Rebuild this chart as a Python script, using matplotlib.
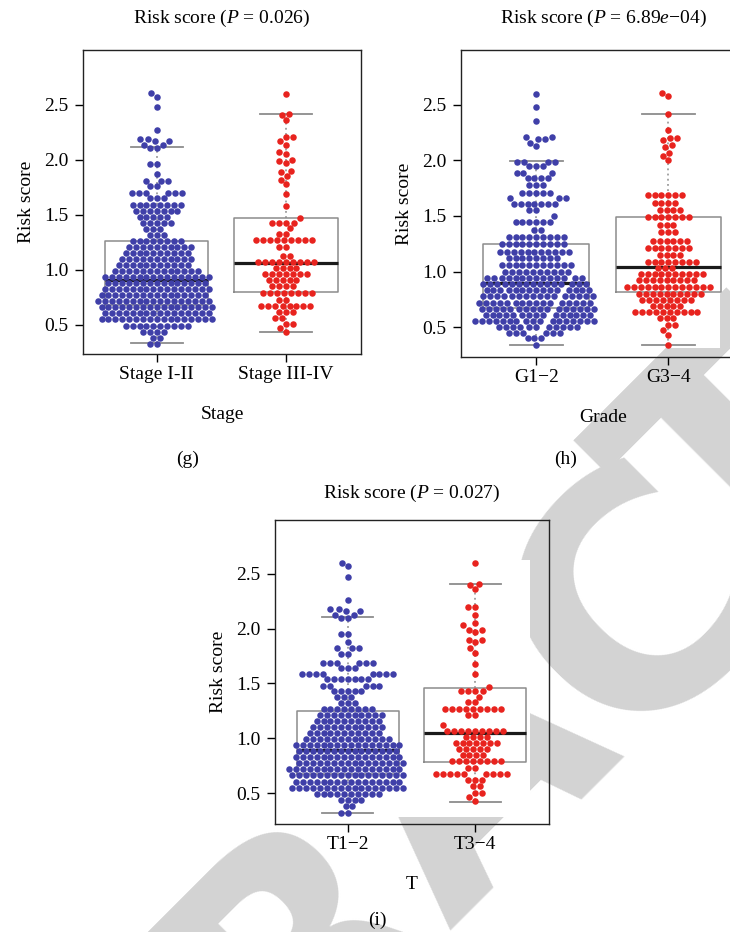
import numpy as np
import matplotlib.pyplot as plt
from matplotlib.patches import Rectangle

plt.rcParams['font.family'] = 'Liberation Serif'
plt.rcParams['mathtext.fontset'] = 'custom'
plt.rcParams['mathtext.rm'] = 'Liberation Serif'
plt.rcParams['mathtext.it'] = 'Liberation Serif:italic'

# ---- data: swarm rows (risk score level, number of points) ----
stage12_levels = [2.61, 2.57, 2.48, 2.27, 2.19, 2.17, 2.14, 2.11, 1.96, 1.87, 1.81, 1.76, 1.70, 1.65, 1.595,
                  1.54, 1.485, 1.43, 1.375, 1.32, 1.265, 1.21, 1.155, 1.10, 1.045, 0.99, 0.935, 0.88, 0.825,
                  0.77, 0.715, 0.66, 0.605, 0.55, 0.495, 0.44, 0.385, 0.33]
stage12_counts = [1, 1, 1, 1, 2, 2, 2, 2, 2, 1, 3, 2, 6, 3, 8,
                  7, 5, 5, 3, 3, 8, 10, 10, 11, 11, 13, 16, 15, 16,
                  16, 17, 17, 16, 17, 10, 4, 2, 2]
stage34_levels = [2.60, 2.42, 2.41, 2.36, 2.21, 2.17, 2.14, 2.07, 2.05, 2.00, 1.99, 1.97, 1.90, 1.89, 1.85,
                  1.82, 1.78, 1.69, 1.58, 1.47, 1.43, 1.38, 1.33, 1.27, 1.21, 1.13, 1.075, 1.015, 0.96, 0.905,
                  0.85, 0.79, 0.73, 0.67, 0.615, 0.56, 0.51, 0.47, 0.44]
stage34_counts = [1, 1, 1, 1, 2, 1, 1, 1, 1, 1, 1, 1, 1, 1, 1,
                  1, 1, 1, 1, 1, 4, 1, 2, 9, 2, 2, 9, 4, 7, 5,
                  4, 8, 2, 8, 3, 2, 2, 1, 1]

grade12_levels = [2.60, 2.48, 2.36, 2.21, 2.19, 2.16, 2.13, 1.99, 1.95, 1.89, 1.84, 1.78, 1.71, 1.66, 1.61,
                  1.55, 1.50, 1.45, 1.37, 1.31, 1.245, 1.18, 1.12, 1.055, 0.995, 0.94, 0.885, 0.83, 0.775,
                  0.72, 0.665, 0.61, 0.555, 0.50, 0.445, 0.40, 0.34]
grade12_counts = [1, 1, 1, 2, 2, 1, 1, 4, 3, 3, 4, 3, 5, 3, 7,
                  2, 1, 6, 2, 9, 10, 11, 8, 11, 10, 14, 15, 15, 16,
                  16, 16, 15, 17, 11, 6, 3, 1]
grade34_levels = [2.61, 2.58, 2.42, 2.27, 2.20, 2.18, 2.14, 2.12, 2.07, 2.04, 2.00, 1.69, 1.62, 1.55, 1.49,
                  1.42, 1.36, 1.275, 1.215, 1.15, 1.09, 1.035, 0.98, 0.92, 0.86, 0.80, 0.745, 0.69, 0.635, 0.58,
                  0.52, 0.47, 0.43, 0.34]
grade34_counts = [1, 1, 1, 1, 2, 1, 1, 1, 1, 1, 1, 6, 4, 4, 7,
                  3, 3, 6, 7, 4, 8, 3, 10, 9, 13, 10, 8, 5, 10, 3,
                  2, 1, 1, 1]

t12_levels = [2.60, 2.57, 2.47, 2.26, 2.18, 2.16, 2.13, 2.10, 1.95, 1.88, 1.82, 1.77, 1.69, 1.64, 1.59,
              1.54, 1.48, 1.43, 1.375, 1.32, 1.265, 1.21, 1.155, 1.10, 1.045, 0.99, 0.935, 0.88, 0.825,
              0.77, 0.715, 0.66, 0.605, 0.55, 0.495, 0.44, 0.38, 0.32]
t12_counts = [1, 1, 1, 1, 2, 2, 2, 2, 2, 1, 3, 2, 6, 3, 8,
              7, 5, 5, 3, 3, 8, 10, 10, 11, 11, 13, 16, 15, 16,
              16, 17, 17, 16, 17, 10, 4, 2, 2]
t34_levels = [2.60, 2.41, 2.40, 2.36, 2.20, 2.13, 2.05, 2.03, 1.99, 1.97, 1.90, 1.88, 1.82, 1.78, 1.68,
              1.59, 1.47, 1.43, 1.38, 1.33, 1.27, 1.21, 1.12, 1.07, 1.01, 0.955, 0.90, 0.845, 0.79, 0.73,
              0.67, 0.62, 0.56, 0.50, 0.46, 0.43]
t34_counts = [1, 1, 1, 1, 2, 1, 1, 1, 2, 1, 2, 1, 1, 1, 1,
              1, 1, 4, 1, 2, 9, 2, 1, 9, 4, 7, 5, 4, 8, 2,
              9, 3, 2, 2, 1, 1]

# box statistics: q1, median, q3, lower whisker, upper whisker
stage_box = [(0.68, 0.905, 1.266, 0.34, 2.118), (0.803, 1.061, 1.47, 0.436, 2.415)]
grade_box = [(0.67, 0.894, 1.248, 0.335, 1.998), (0.812, 1.043, 1.488, 0.335, 2.416)]
t_box = [(0.67, 0.893, 1.252, 0.32, 2.11), (0.786, 1.05, 1.456, 0.42, 2.41)]

stage_labels = ['Stage I-II', 'Stage III-IV']
grade_labels = ['G1\u22122', 'G3\u22124']
t_labels = ['T1\u22122', 'T3\u22124']

BLUE = '#3f3fa8'
RED = '#e8231e'
BOXGRAY = '#8c8c8c'
DOT = 6.9  # dot spacing in pixels


def swarm_offsets(ypx, d):
    # simple beeswarm: place each point (low to high) closest to the centre without overlap
    order = np.argsort(ypx, kind='stable')
    xs = np.zeros(len(ypx))
    done_x, done_y = [], []
    for i in order:
        y = ypx[i]
        px = np.array(done_x)
        py = np.array(done_y)
        if len(py):
            m = np.abs(py - y) < d
            px, py = px[m], py[m]
        w = np.sqrt(np.maximum(d ** 2 - (py - y) ** 2, 0))
        cands = np.concatenate([[0.0], px - w, px + w])
        cands = cands[np.argsort(np.abs(cands), kind='stable')]
        for c in cands:
            if np.all((c - px) ** 2 + (py - y) ** 2 >= d ** 2 - 1e-3):
                xs[i] = c
                break
        done_x.append(xs[i])
        done_y.append(y)
    return xs


def panel(ax, groups, boxes, labels, title, xlab, ylim, title_off):
    ax.set_xlim(0.43, 2.58)
    ax.set_ylim(*ylim)
    ax.set_facecolor('none')
    stats = []
    for q1, med, q3, lo, hi in boxes:
        stats.append(dict(q1=q1, med=med, q3=q3, whislo=lo, whishi=hi, fliers=[]))
    ax.bxp(stats, positions=[1, 2], widths=0.8, capwidths=0.4, showfliers=False,
           boxprops=dict(color=BOXGRAY, lw=1.1),
           whiskerprops=dict(color=BOXGRAY, lw=1.1, linestyle=(0, (1.2, 2.2))),
           capprops=dict(color=BOXGRAY, lw=1.3),
           medianprops=dict(color='#1a1a1a', lw=2.3), zorder=1)
    for k, (levels, counts, col) in enumerate(groups):
        ys = np.repeat(levels, counts)
        pts = ax.transData.transform(np.column_stack([np.full(len(ys), k + 1.0), ys]))
        xs = swarm_offsets(pts[:, 1], DOT)
        pts[:, 0] += xs
        data = ax.transData.inverted().transform(pts)
        ax.scatter(data[:, 0], ys, s=22, color=col, linewidths=0, zorder=2)
    ax.set_xticks([1, 2])
    ax.set_xticklabels(labels)
    ax.set_yticks([0.5, 1.0, 1.5, 2.0, 2.5])
    ax.set_yticklabels(['0.5', '1.0', '1.5', '2.0', '2.5'])
    ax.tick_params(labelsize=14, length=6, width=1.0, direction='out')
    ax.tick_params(axis='x', pad=2.5)
    ax.tick_params(axis='y', pad=4.5)
    for s in ax.spines.values():
        s.set_linewidth(1.0)
        s.set_color('#222222')
    ax.set_xlabel(xlab, fontsize=14)
    ax.set_ylabel('Risk score', fontsize=14)
    h = ax.get_position().height * 932
    w = ax.get_position().width * 730
    ax.xaxis.set_label_coords(0.5, -52 / h)
    ax.yaxis.set_label_coords(-48 / w, 0.5)
    ax.text(0.5, 1 + title_off / h, title, transform=ax.transAxes, ha='center', va='center', fontsize=14)


fig = plt.figure(figsize=(7.3, 9.32), dpi=100)


def pos(l, t, r, b):
    return [l / 730, 1 - b / 932, (r - l) / 730, (b - t) / 932]


# watermark behind the panels: letters of "RETRACTED" laid along a diagonal
wm_letters = ['R', 'A', 'C', 'T']
wm_centres = [(285, 930), (455, 760), (624, 588), (732, 446)]
ang = np.deg2rad(45)
cap = 235  # cap height in pixels
for ch, (cx, cy) in zip(wm_letters, wm_centres):
    bx = cx + 0.5 * cap * np.sin(ang)
    by = cy + 0.5 * cap * np.cos(ang)
    fig.text(bx / 730, 1 - by / 932, ch, rotation=45, rotation_mode='anchor', fontsize=232,
             family='DejaVu Sans', weight='bold', color='#d3d3d3', ha='center', va='baseline', zorder=-2)
fig.add_artist(Rectangle((289 / 730, 1 - 817 / 932), (530 - 289) / 730, (817 - 560) / 932,
                         transform=fig.transFigure, facecolor='white', edgecolor='none', zorder=-1))
fig.add_artist(Rectangle((470 / 730, 1 - 348 / 932), (720 - 470) / 730, (348 - 55) / 932,
                         transform=fig.transFigure, facecolor='white', edgecolor='none', zorder=-1))

ax_g = fig.add_axes(pos(83, 50, 361, 354))
panel(ax_g, [(stage12_levels, stage12_counts, BLUE), (stage34_levels, stage34_counts, RED)],
      stage_box, stage_labels, 'Risk score ($P$ = 0.026)', 'Stage', (0.236, 3.0), 32)

ax_h = fig.add_axes(pos(461, 50, 745, 357))
panel(ax_h, [(grade12_levels, grade12_counts, BLUE), (grade34_levels, grade34_counts, RED)],
      grade_box, grade_labels, 'Risk score ($P$ = 6.89$e$\u221204)', 'Grade', (0.23, 2.995), 32)

ax_i = fig.add_axes(pos(275, 520, 549, 824))
panel(ax_i, [(t12_levels, t12_counts, BLUE), (t34_levels, t34_counts, RED)],
      t_box, t_labels, 'Risk score ($P$ = 0.027)', 'T', (0.217, 2.993), 27)

fig.text(188 / 730, 1 - 459 / 932, '(g)', fontsize=14, ha='center', va='center')
fig.text(566 / 730, 1 - 459 / 932, '(h)', fontsize=14, ha='center', va='center')
fig.text(377 / 730, 1 - 920 / 932, '(i)', fontsize=14, ha='center', va='center')

fig.savefig('out.png', dpi=100)
